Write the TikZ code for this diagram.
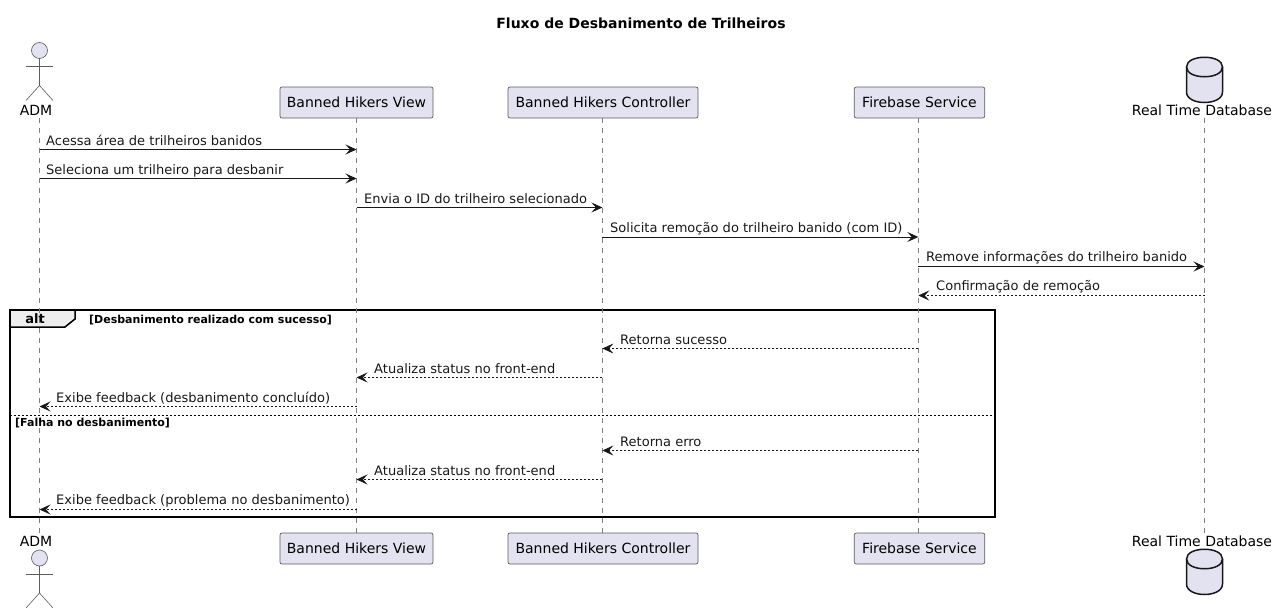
\documentclass[tikz,border=0pt]{standalone}
\usepackage{fontspec}
\setmainfont{DejaVu Sans}
\usepackage{xcolor}
\usetikzlibrary{arrows.meta,backgrounds}
\definecolor{part-fill}{HTML}{E2E2F0}
\definecolor{tab-fill}{HTML}{EEEEEE}
\definecolor{life-gray}{HTML}{808080}
\definecolor{part-line}{HTML}{181818}

\begin{document}
\begin{tikzpicture}[
    x=1pt, y=-1pt,
    box/.style={rectangle, draw=part-line!70, line width=0.7pt, fill=part-fill, rounded corners=2pt,
                minimum height=31pt, inner sep=0pt, font=\fontsize{14}{16}\selectfont},
    partname/.style={inner sep=0pt, font=\fontsize{14}{16}\selectfont},
    lifeline/.style={draw=life-gray, line width=0.6pt, dash pattern=on 5pt off 5pt},
    figure/.style={draw=part-line!70, line width=0.6pt},
    cylinder line/.style={draw=part-line, line width=1.5pt},
    arrow/.style={-{Stealth[length=11pt,width=10pt,inset=4.5pt]}, draw=part-line, line width=0.8pt},
    reply/.style={arrow, dash pattern=on 2pt off 2pt},
    msgtext/.style={anchor=base west, inner sep=0pt, text=part-line, font=\fontsize{13.03}{15}\selectfont},
    guard/.style={anchor=base west, inner sep=0pt, font=\bfseries\fontsize{11}{13}\selectfont}
]
  \useasboundingbox (0,0) rectangle (1278,613);

  % Title
  \node[inner sep=0pt, font=\bfseries\fontsize{14}{16}\selectfont] (title) at (641,23) {Fluxo de Desbanimento de Trilheiros};

  % Top participants
  \node[partname] (admtop) at (36,110.5) {ADM};
  \node[box, minimum width=153pt] (view) at (356.5,102.5) {Banned Hikers View};
  \node[box, minimum width=190pt] (ctrl) at (603,102.5) {Banned Hikers Controller};
  \node[box, minimum width=130.5pt] (fire) at (919.5,102.5) {Firebase Service};
  \node[partname] (dbtop) at (1202,110) {Real Time Database};

  % Bottom participants
  \node[partname] (admbot) at (36,541.5) {ADM};
  \node[box, minimum width=153pt] (viewb) at (356.5,548.5) {Banned Hikers View};
  \node[box, minimum width=190pt] (ctrlb) at (603,548.5) {Banned Hikers Controller};
  \node[box, minimum width=130.5pt] (fireb) at (919.5,548.5) {Firebase Service};
  \node[partname] (dbbot) at (1202,541) {Real Time Database};

  % Lifeline ends
  \coordinate (adm) at (39.5,118);
  \coordinate (admend) at (39.5,533);
  \coordinate (ctrlline) at (602.4,118);
  \coordinate (ctrlend) at (602.4,533);
  \coordinate (fireline) at (918.3,118);
  \coordinate (fireend) at (918.3,533);
  \coordinate (db) at (1204.5,118);
  \coordinate (dbend) at (1204.5,533);

  \begin{scope}[on background layer]
    % Alt frame
    \draw[line width=1.5pt, fill=tab-fill] (10,327) -- (65,327) -- (75,319) -- (75,310) -- (10,310) -- cycle;
    \draw[line width=1.5pt] (10,310) rectangle (995,517);
    \draw[line width=0.8pt, dash pattern=on 2pt off 2pt] (10,415) -- (995,415);
    % Lifelines
    \draw[lifeline] (adm) -- (admend);
    \draw[lifeline] (view) -- (viewb);
    \draw[lifeline] (ctrlline) -- (ctrlend);
    \draw[lifeline] (fireline) -- (fireend);
    \draw[lifeline] (db) -- (dbend);
  \end{scope}

  % Frame labels
  \node[inner sep=0pt, font=\bfseries\fontsize{13}{15}\selectfont] (alttag) at (35,318.5) {alt};
  \node[guard] (guardok) at (89,323) {[Desbanimento realizado com sucesso]};
  \node[guard] (guardfail) at (15,426) {[Falha no desbanimento]};

  % Actors
  \foreach \t in {50.5,558}{
    \draw[figure, fill=part-fill] (39.5,\t) circle (8);
    \draw[figure] (39.5,\t+8) -- (39.5,\t+35);
    \draw[figure] (26,\t+16) -- (53,\t+16);
    \draw[figure] (26,\t+50) -- (39.5,\t+35) -- (53,\t+50);
  }

  % Databases
  \foreach \t in {57,549}{
    \draw[cylinder line, fill=part-fill] (1186.5,\t+10) .. controls (1186.5,\t-3) and (1222.5,\t-3) .. (1222.5,\t+10)
      -- (1222.5,\t+35) .. controls (1222.5,\t+49) and (1186.5,\t+49) .. (1186.5,\t+35) -- cycle;
    \draw[cylinder line] (1186.5,\t+10) .. controls (1186.5,\t+23) and (1222.5,\t+23) .. (1222.5,\t+10);
  }

  % Message rows
  \coordinate (r1) at (0,149.5);
  \coordinate (r2) at (0,178.5);
  \coordinate (r3) at (0,207.5);
  \coordinate (r4) at (0,237);
  \coordinate (r5) at (0,266.5);
  \coordinate (r6) at (0,295.5);
  \coordinate (r7) at (0,348.5);
  \coordinate (r8) at (0,377.5);
  \coordinate (r9) at (0,406.5);
  \coordinate (r10) at (0,450.5);
  \coordinate (r11) at (0,479.5);
  \coordinate (r12) at (0,509.5);

  % Messages
  \draw[arrow] (adm |- r1) -- (view |- r1);
  \node[msgtext] (m1) at (46,145) {Acessa área de trilheiros banidos};
  \draw[arrow] (adm |- r2) -- (view |- r2);
  \node[msgtext] (m2) at (46,174) {Seleciona um trilheiro para desbanir};
  \draw[arrow] (view |- r3) -- (ctrlline |- r3);
  \node[msgtext] (m3) at (364,203) {Envia o ID do trilheiro selecionado};
  \draw[arrow] (ctrlline |- r4) -- (fireline |- r4);
  \node[msgtext] (m4) at (610,232) {Solicita remoção do trilheiro banido (com ID)};
  \draw[arrow] (fireline |- r5) -- (db |- r5);
  \node[msgtext] (m5) at (926,261) {Remove informações do trilheiro banido};
  \draw[reply] (db |- r6) -- (fireline |- r6);
  \node[msgtext] (m6) at (936,290) {Confirmação de remoção};
  \draw[reply] (fireline |- r7) -- (ctrlline |- r7);
  \node[msgtext] (m7) at (620,344) {Retorna sucesso};
  \draw[reply] (ctrlline |- r8) -- (view |- r8);
  \node[msgtext] (m8) at (374,373) {Atualiza status no front-end};
  \draw[reply] (view |- r9) -- (adm |- r9);
  \node[msgtext] (m9) at (56,402) {Exibe feedback (desbanimento concluído)};
  \draw[reply] (fireline |- r10) -- (ctrlline |- r10);
  \node[msgtext] (m10) at (620,446) {Retorna erro};
  \draw[reply] (ctrlline |- r11) -- (view |- r11);
  \node[msgtext] (m11) at (374,475) {Atualiza status no front-end};
  \draw[reply] (view |- r12) -- (adm |- r12);
  \node[msgtext] (m12) at (56,504) {Exibe feedback (problema no desbanimento)};
\end{tikzpicture}
\end{document}
